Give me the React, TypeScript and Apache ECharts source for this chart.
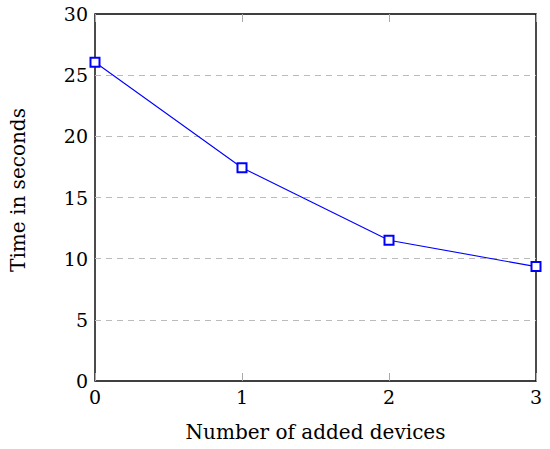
import React, { useEffect, useRef } from "react";
import * as echarts from "echarts";

const xValues = [0, 1, 2, 3];
const timeSeconds = [26.05, 17.43, 11.51, 9.35];
const yTicks = [0, 5, 10, 15, 20, 25, 30];
const xTitle = "Number of added devices";
const yTitle = "Time in seconds";

const FONT = "'DejaVu Serif', 'Liberation Serif', serif";

export default function App() {
  const ref = useRef<HTMLDivElement>(null);
  useEffect(() => {
    if (!ref.current) return;
    const chart = echarts.init(ref.current, undefined, { renderer: "svg" });
    const tickStyle = { color: "#000", fontFamily: FONT, fontSize: 19 };
    const titleStyle = { color: "#000", fontFamily: FONT, fontSize: 20 };
    chart.setOption({
      animation: false,
      grid: {
        left: 95,
        right: 14,
        top: 14,
        bottom: 68,
        show: true,
        borderColor: "#000",
        borderWidth: 1.4,
        backgroundColor: "transparent",
      },
      graphic: [
        {
          type: "text",
          x: 18,
          y: 190,
          rotation: Math.PI / 2,
          style: {
            text: yTitle,
            fill: "#000",
            font: `20px ${FONT}`,
            align: "center",
            verticalAlign: "middle",
          },
        },
      ],
      xAxis: [
        {
          type: "value",
          min: 0,
          max: 3,
          interval: 1,
          position: "bottom",
          name: xTitle,
          nameLocation: "middle",
          nameGap: 41,
          nameTextStyle: { ...titleStyle },
          axisLine: { show: false },
          axisTick: { show: true, inside: true, length: 8, lineStyle: { color: "#aaa", width: 1 } },
          axisLabel: { ...tickStyle, margin: 6 },
          splitLine: { show: false },
        },
        {
          type: "value",
          min: 0,
          max: 3,
          interval: 1,
          position: "top",
          axisLine: { show: false },
          axisTick: { show: true, inside: true, length: 8, lineStyle: { color: "#aaa", width: 1 } },
          axisLabel: { show: false },
          splitLine: { show: false },
        },
      ],
      yAxis: {
        type: "value",
        min: yTicks[0],
        max: yTicks[yTicks.length - 1],
        interval: 5,
        axisLine: { show: false },
        axisTick: { show: false },
        axisLabel: { ...tickStyle, margin: 7 },
        splitLine: {
          show: true,
          showMinLine: false,
          showMaxLine: false,
          lineStyle: { color: "#bbb", type: [6, 5], width: 1.2 },
        },
      },
      series: [
        {
          type: "line",
          data: xValues.map((x, i) => [x, timeSeconds[i]]),
          symbol: "emptyRect",
          symbolSize: 9,
          lineStyle: { color: "#0000ff", width: 1.1 },
          itemStyle: { color: "#0000ff", borderColor: "#0000ff", borderWidth: 1 },
        },
      ],
    });
    return () => chart.dispose();
  }, []);
  return <div ref={ref} style={{ width: 550, height: 449, position: "absolute", left: 0, top: 0 }} />;
}
